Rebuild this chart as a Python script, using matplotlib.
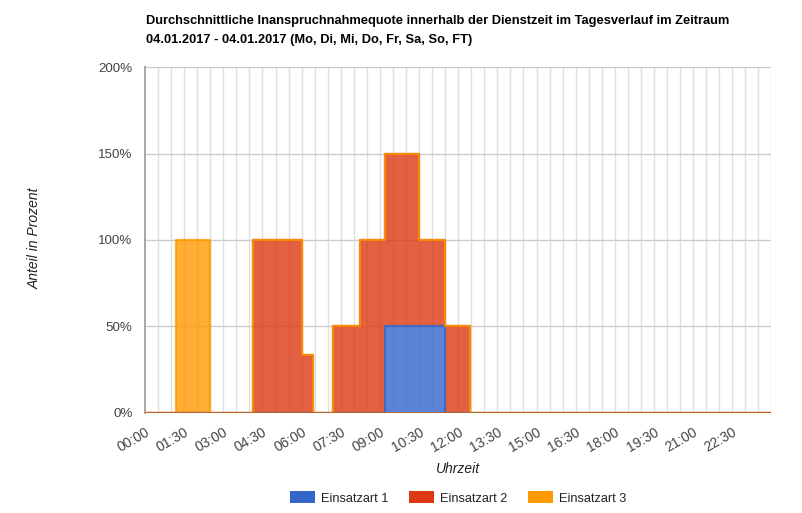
import matplotlib
matplotlib.use("Agg")
import matplotlib.pyplot as plt
import numpy as np
from matplotlib.patches import Patch

# ---- data ----
# step breakpoints in hours (each interval value holds until the next breakpoint)
breaks_h = [0, 1.17, 2.5, 4.13, 6.0, 6.45, 7.2, 8.23, 9.2, 10.5, 11.5, 12.47, 24]
series_names = ["Einsatzart 1", "Einsatzart 2", "Einsatzart 3"]
einsatzart_1 = [0, 0, 0, 0, 0, 0, 0, 0, 50, 50, 0, 0]
einsatzart_2 = [0, 0, 0, 100, 33.3, 0, 50, 100, 100, 50, 50, 0]
einsatzart_3 = [0, 100, 0, 0, 0, 0, 0, 0, 0, 0, 0, 0]
tick_hours = [i * 1.5 for i in range(16)]
tick_labels = ["00:00", "01:30", "03:00", "04:30", "06:00", "07:30", "09:00", "10:30",
               "12:00", "13:30", "15:00", "16:30", "18:00", "19:30", "21:00", "22:30"]
y_ticks = [0, 50, 100, 150, 200]
y_labels = ["0%", "50%", "100%", "150%", "200%"]
title = ("Durchschnittliche Inanspruchnahmequote innerhalb der Dienstzeit im Tagesverlauf im Zeitraum\n"
         "04.01.2017 - 04.01.2017 (Mo, Di, Mi, Do, Fr, Sa, So, FT)")
colors = ["#3366CC", "#DC3912", "#FF9900"]

plt.rcParams['font.family'] = ['Liberation Sans', 'DejaVu Sans']

W, H = 802, 513
fig = plt.figure(figsize=(W / 100, H / 100), dpi=100)
left, right, top, bottom = 145, 771.4, 67.3, 412.7
ax = fig.add_axes([left / W, 1 - bottom / H, (right - left) / W, (bottom - top) / H])

ax.set_xlim(0, 24)
ax.set_ylim(0, 200)

# gridlines
for xm in np.arange(0.5, 24.01, 0.5):
    ax.axvline(xm, color="#e0e0e0", lw=1, zorder=0)
for yv in y_ticks[1:]:
    ax.axhline(yv, color="#cccccc", lw=1, zorder=0)

x = np.array(breaks_h, dtype=float)
all_series = [einsatzart_1, einsatzart_2, einsatzart_3]
base = np.zeros(len(x))
for vals, col in zip(all_series, colors):
    v = np.array(vals + [vals[-1]], dtype=float)
    topv = base + v
    ax.fill_between(x, base, topv, step="post", color=col, alpha=0.8, lw=0, zorder=2)
    base = topv
lines_base = np.zeros(len(x))
for vals, col in zip(all_series, colors):
    v = np.array(vals + [vals[-1]], dtype=float)
    lines_base = lines_base + v
    ax.step(x, lines_base, where="post", color=col, lw=1.6, zorder=3, alpha=0.8)
# baseline
ax.axhline(0, color="#b8652a", lw=2, zorder=4)

for s in ["top", "right", "bottom"]:
    ax.spines[s].set_visible(False)
ax.spines["left"].set_color("#a0a0a0")
ax.spines["left"].set_linewidth(1.3)

ax.set_yticks(y_ticks)
ax.set_yticklabels(y_labels, fontsize=9.6, color="#444444")
ax.set_xticks(tick_hours)
ax.set_xticklabels(tick_labels, fontsize=10, color="#444444", rotation=30,
                   ha="right", rotation_mode="anchor")
ax.tick_params(axis="both", length=0)
ax.tick_params(axis="y", pad=9)
ax.tick_params(axis="x", pad=9)

fig.text(35 / W, 1 - 238 / H, "Anteil in Prozent", rotation=90, style="italic",
         fontsize=10, color="#222222", ha="center", va="center")
fig.text(458 / W, 1 - 469 / H, "Uhrzeit", style="italic",
         fontsize=10, color="#222222", ha="center", va="center")

fig.text(146 / W, 1 - 15 / H, title, fontsize=9.3, fontweight="bold", ha="left", va="top",
         linespacing=1.8, color="#000000")

# legend
handles = [Patch(facecolor=c, edgecolor="none") for c in colors]
leg = fig.legend(handles, series_names, loc="center", bbox_to_anchor=(458 / W, 1 - 498 / H),
                 ncol=3, frameon=False, fontsize=9.2, handlelength=2.0, handleheight=1.0,
                 columnspacing=1.6, handletextpad=0.45)
for t in leg.get_texts():
    t.set_color("#222222")

fig.savefig("out.png", dpi=100)
